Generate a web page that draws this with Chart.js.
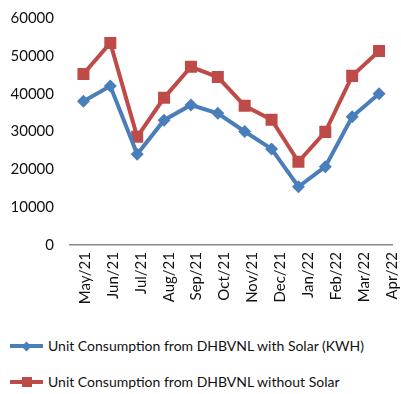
<!DOCTYPE html>
<html>
<head>
<meta charset="utf-8">
<script src="https://cdn.jsdelivr.net/npm/chart.js@4"></script>
<style>
  html, body { margin: 0; padding: 0; background: #fff; }
  #wrap { position: relative; width: 401px; height: 394px; overflow: hidden; background: #fff; }
  #chartBox { position: absolute; left: 0; top: 0; width: 401px; height: 312px; }
  .leg { position: absolute; left: 10px; height: 20px; font-family: Lato, sans-serif; font-size: 14px; color: #111; white-space: nowrap; }
  .leg .ln { position: absolute; left: 0; top: 8px; width: 33px; height: 4px; }
  .leg .mk { position: absolute; }
  .leg .tx { position: absolute; left: 38px; top: 0; line-height: 20px; }
</style>
</head>
<body>
<div id="wrap">
  <div id="chartBox"><canvas id="c"></canvas></div>
  <div class="leg" id="leg0" style="top:336px"></div>
  <div class="leg" id="leg1" style="top:372px"></div>
</div>
<script>
const months = ["May/21","Jun/21","Jul/21","Aug/21","Sep/21","Oct/21","Nov/21","Dec/21","Jan/22","Feb/22","Mar/22","Apr/22"];
const withSolar = [38000, 42000, 24000, 33000, 37000, 34800, 30000, 25400, 15400, 20700, 33900, 40000];
const withoutSolar = [45200, 53400, 28600, 38900, 47100, 44400, 36800, 33100, 22000, 29900, 44700, 51300];
const seriesNames = ["Unit Consumption from DHBVNL with Solar (KWH)", "Unit Consumption from DHBVNL without Solar"];
const yTicks = [0, 10000, 20000, 30000, 40000, 50000, 60000];

const BLUE = "#4A7EBB";
const RED = "#BE4B48";
const LABEL_MIN = -0.536, LABEL_MAX = 11.02;

const ctx = document.getElementById("c");
const ch = new Chart(ctx, {
  type: "line",
  data: {
    labels: months,
    datasets: [
      { label: seriesNames[0], data: withSolar, borderColor: BLUE, backgroundColor: BLUE,
        borderWidth: 4, pointStyle: "rectRot", pointRadius: 6.5, pointBorderWidth: 0, tension: 0 },
      { label: seriesNames[1], data: withoutSolar, borderColor: RED, backgroundColor: RED,
        borderWidth: 4, pointStyle: "rect", pointRadius: 8.5, pointBorderWidth: 0, tension: 0 }
    ]
  },
  options: {
    responsive: true,
    maintainAspectRatio: false,
    animation: false,
    layout: { padding: { top: 18, right: 6.5, left: 0, bottom: 0 } },
    plugins: { legend: { display: false }, tooltip: { enabled: false } },
    scales: {
      x: {
        offset: true,
        weight: 0,
        grid: { display: false, drawTicks: false },
        border: { display: true, color: "#888", width: 1.5 },
        ticks: { display: false },
        afterFit: (s) => { s.height = 0; s.paddingLeft = 0; s.paddingRight = 0; s.paddingTop = 0; s.paddingBottom = 0; }
      },
      xl: {
        type: "linear",
        position: "bottom",
        weight: 1,
        bounds: "data",
        min: LABEL_MIN, max: LABEL_MAX,
        afterBuildTicks: (s) => { s.ticks = months.map((m, i) => ({ value: i })); s.min = LABEL_MIN; s.max = LABEL_MAX; },
        grid: { display: false, drawTicks: false },
        border: { display: false },
        ticks: { minRotation: 90, maxRotation: 90, autoSkip: false, padding: 7,
                 color: "#111", font: { family: "Lato", size: 15 },
                 callback: (v) => months[v] },
        afterFit: (s) => { s.height = 312 - 245; s.paddingLeft = 0; s.paddingRight = 0; s.paddingTop = 0; s.paddingBottom = 0; }
      },
      y: {
        min: 0, max: 60000,
        afterBuildTicks: (s) => { s.ticks = yTicks.map(v => ({ value: v })); },
        grid: { display: false, drawTicks: false },
        border: { display: false },
        ticks: { padding: 16, color: "#111", font: { family: "Lato", size: 15 },
                 callback: (v) => String(v) },
        afterFit: (s) => { s.width = 70; s.paddingTop = 0; s.paddingBottom = 0; s.paddingLeft = 0; s.paddingRight = 0; }
      }
    }
  }
});

function makeLegend(el, i) {
  const color = i === 0 ? BLUE : RED;
  const ln = document.createElement("div"); ln.className = "ln"; ln.style.background = color;
  const mk = document.createElement("div"); mk.className = "mk"; mk.style.background = color;
  if (i === 0) {
    mk.style.width = "7px"; mk.style.height = "7px"; mk.style.left = "13px"; mk.style.top = "6.5px";
    mk.style.transform = "rotate(45deg)";
  } else {
    mk.style.width = "10px"; mk.style.height = "10px"; mk.style.left = "12px"; mk.style.top = "5px";
  }
  const tx = document.createElement("span"); tx.className = "tx"; tx.textContent = seriesNames[i];
  el.appendChild(ln); el.appendChild(mk); el.appendChild(tx);
}
makeLegend(document.getElementById("leg0"), 0);
makeLegend(document.getElementById("leg1"), 1);
</script>
</body>
</html>
